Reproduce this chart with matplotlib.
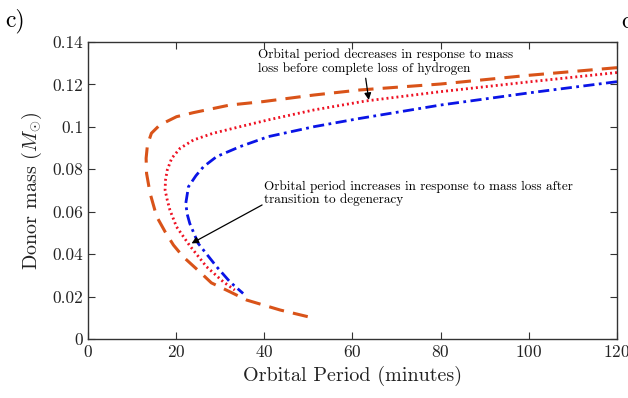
import matplotlib

matplotlib.use("Agg")
import matplotlib.pyplot as plt

plt.rcParams["font.family"] = "cmr10"
plt.rcParams["mathtext.fontset"] = "cm"
plt.rcParams["axes.formatter.use_mathtext"] = True

# orbital period (minutes) and donor mass (Msun), read along each track
orange_period = [120, 100, 80, 61.7, 51.2, 39.7, 32.2, 23.9, 20.1, 16.3, 14.4, 13.5, 13.2,
                 13.3, 14.1, 15.6, 17.5, 19.4, 21.6, 25.4, 28.0, 32.2, 36.0, 43.6, 51.0]
orange_mass = [0.1279, 0.1243, 0.1202, 0.1174, 0.1150, 0.1119, 0.1103, 0.1067, 0.1048, 0.1009,
               0.0970, 0.0915, 0.0852, 0.0781, 0.0687, 0.0577, 0.0506, 0.0443, 0.0388, 0.0316,
               0.0265, 0.0223, 0.0184, 0.0137, 0.0100]

red_period = [120, 100, 80, 63, 51.3, 40.9, 34.5, 28.4, 23.9, 20.9, 19.0, 18.0, 17.6,
              17.5, 18.0, 18.6, 20.1, 23.1, 26.9, 30.7, 33.3]
red_mass = [0.1256, 0.1212, 0.1166, 0.1122, 0.1080, 0.1033, 0.1001, 0.0970, 0.0938, 0.0899,
            0.0852, 0.0797, 0.0750, 0.0703, 0.0655, 0.0608, 0.0529, 0.0440, 0.0341, 0.0270,
            0.0231]

blue_period = [120, 100, 80, 61.7, 51.3, 40.9, 34.5, 29.2, 26.2, 24.5, 22.8, 22.2, 22.5,
               23.1, 25.0, 29.2, 32.2, 35.2]
blue_mass = [0.1213, 0.1160, 0.1103, 0.1040, 0.1001, 0.0954, 0.0907, 0.0860, 0.0812, 0.0770,
             0.0718, 0.0640, 0.0590, 0.0545, 0.0451, 0.0341, 0.0270, 0.0215]

x_ticks = [0, 20, 40, 60, 80, 100, 120]
y_ticks = [0, 0.02, 0.04, 0.06, 0.08, 0.1, 0.12, 0.14]
y_tick_labels = ["0", "0.02", "0.04", "0.06", "0.08", "0.1", "0.12", "0.14"]

note_top = "Orbital period decreases in response to mass\nloss before complete loss of hydrogen"
note_mid = "Orbital period increases in response to mass loss after\ntransition to degeneracy"

fig = plt.figure(figsize=(6.28, 3.98), dpi=100)
ax = fig.add_axes([0.140, 0.148, 0.8425, 0.7465])

ax.plot(orange_period, orange_mass, color="#D95319", lw=2.2, linestyle=(0, (5, 3)))
ax.plot(red_period, red_mass, color="#ee1122", lw=2.0, linestyle=(0, (0.7, 1.1)))
ax.plot(blue_period, blue_mass, color="#0a14e6", lw=2.0, linestyle=(0, (4, 1.6, 1, 1.6)))

ax.set_xlim(0, 120)
ax.set_ylim(0, 0.14)
ax.set_xticks(x_ticks)
ax.set_yticks(y_ticks)
ax.set_yticklabels(y_tick_labels)
ax.tick_params(direction="in", top=True, right=True, labelsize=12.5, length=5,
               color="#333333", labelcolor="#222222")
for s in ax.spines.values():
    s.set_color("#333333")
    s.set_linewidth(1.0)

ax.set_xlabel("Orbital Period (minutes)", fontsize=14.5, color="#222222", labelpad=4)
ax.set_ylabel(r"Donor mass ($M_{\odot}$)", fontsize=14.5, color="#222222", labelpad=6)

arrow = dict(arrowstyle="-|>", color="black", lw=0.9, shrinkA=0, shrinkB=0, mutation_scale=10)
ax.text(38.6, 0.1308, note_top, fontsize=9.5, ha="left", va="center", linespacing=1.1)
ax.annotate("", xy=(63.7, 0.1127), xytext=(63.0, 0.1229), arrowprops=arrow)
ax.text(39.9, 0.0688, note_mid, fontsize=9.5, ha="left", va="center", linespacing=1.1)
ax.annotate("", xy=(23.5, 0.0451), xytext=(39.5, 0.0632), arrowprops=arrow)

fig.text(0.008, 0.98, "c)", fontsize=17, ha="left", va="top")
fig.text(0.99, 0.975, "d)", fontsize=17, ha="left", va="top")

fig.savefig("out.png", dpi=100)
